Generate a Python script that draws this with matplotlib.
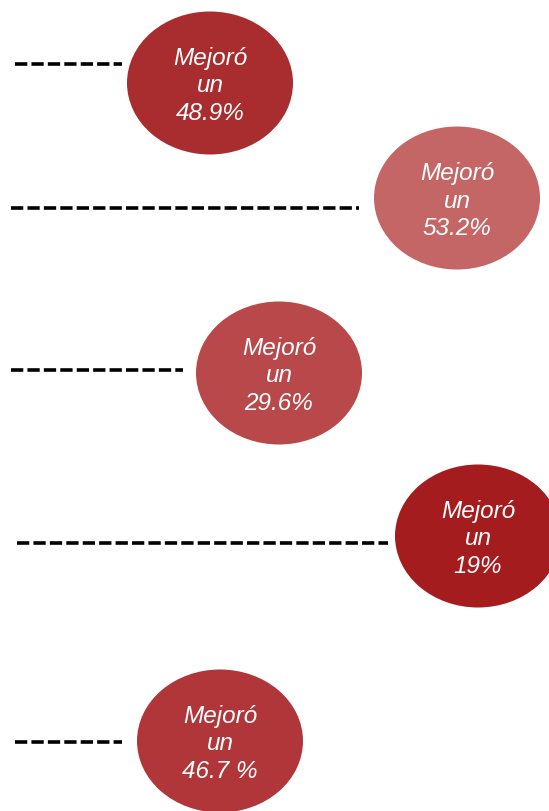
import matplotlib
matplotlib.use("Agg")
import matplotlib.pyplot as plt
from matplotlib.patches import Ellipse

# Data
labels = ["48.9%", "53.2%", "29.6%", "19%", "46.7 %"]
values = [48.9, 53.2, 29.6, 19.0, 46.7]

# Layout (pixel coordinates)
centers_x = [210, 457, 279, 478, 220]
centers_y = [84, 199, 374, 537, 742]
line_y = [65, 209, 371, 544, 743]
line_x0 = [15, 11, 11, 17, 15]
line_x1 = [122, 359, 183, 388, 122]
colors = ["#A92C2F", "#C46666", "#B84849", "#A51C1F", "#B03639"]
ew, eh = 166, 143

W, H = 549, 812
fig = plt.figure(figsize=(W / 100, H / 100), dpi=100)
ax = fig.add_axes([0, 0, 1, 1])
ax.set_xlim(0, W)
ax.set_ylim(H, 0)
ax.axis("off")

for i, lab in enumerate(labels):
    ax.plot([line_x0[i], line_x1[i]], [line_y[i], line_y[i]], color="black",
            lw=2.6, linestyle=(0, (3.4, 1.15)), solid_capstyle="butt",
            dash_capstyle="butt")
    ax.add_patch(Ellipse((centers_x[i], centers_y[i]), ew, eh,
                         facecolor=colors[i], edgecolor="none"))
    ax.text(centers_x[i], centers_y[i] + 2, "Mejoró\nun\n" + lab, color="white",
            fontsize=17.5, fontstyle="italic", family="Liberation Sans",
            ha="center", va="center", linespacing=1.27)

fig.savefig("out.png", dpi=100)
